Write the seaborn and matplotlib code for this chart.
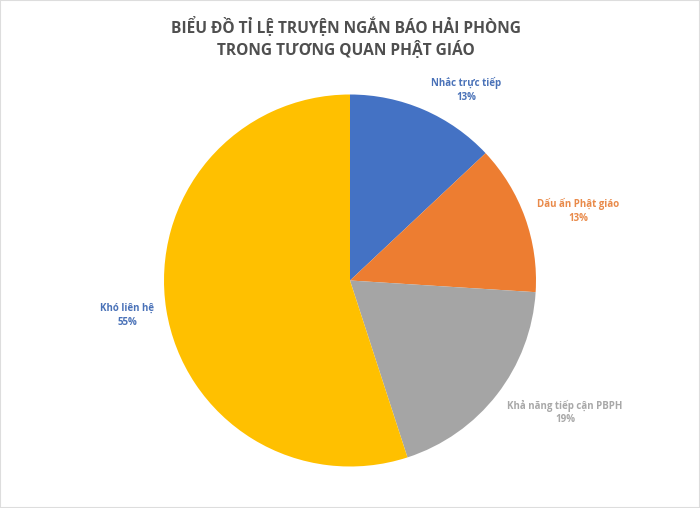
import matplotlib
matplotlib.use("Agg")
import matplotlib.pyplot as plt
import seaborn as sns

sns.set_theme(style="white")
plt.rcParams['font.family'] = ['Open Sans', 'DejaVu Sans']

title = "BIỂU ĐỒ TỈ LỆ TRUYỆN NGẮN BÁO HẢI PHÒNG\nTRONG TƯƠNG QUAN PHẬT GIÁO"
categories = ["Nhắc trực tiếp", "Dấu ấn Phật giáo", "Khả năng tiếp cận PBPH", "Khó liên hệ"]
values = [13, 13, 19, 55]
colors = ["#4472C4", "#ED7D31", "#A5A5A5", "#FFC000"]
label_colors = ["#4A72B8", "#E98A4A", "#A8A8A8", "#4A72B8"]
pct = ["13%", "13%", "19%", "55%"]

fig = plt.figure(figsize=(7.0, 5.08), dpi=100, facecolor="white")
ax = fig.add_axes([164/700, 1-467/508, 372/700, 373/508])
ax.pie(values, colors=colors, startangle=90, counterclock=False, radius=1.0,
       wedgeprops={"linewidth": 0})
ax.set_xlim(-1, 1); ax.set_ylim(-1, 1)

pos = [(466, 90), (578, 211), (565, 412.5), (127, 315.5)]
for (x, y), cat, p, c in zip(pos, categories, pct, label_colors):
    fig.text(x/700, 1-y/508, cat + "\n" + p, color=c, fontsize=7.0, fontweight="bold",
             ha="center", va="center", linespacing=1.35)

fig.text(346/700, 1-38/508, title, color="#4F4F4F", fontsize=11.2, fontweight="bold",
         ha="center", va="center", linespacing=1.35)
fig.add_artist(plt.Rectangle((0, 0), 1, 1, transform=fig.transFigure, fill=False,
                             edgecolor="#DDDDDD", linewidth=1.5))
fig.savefig("out.png", dpi=100)
